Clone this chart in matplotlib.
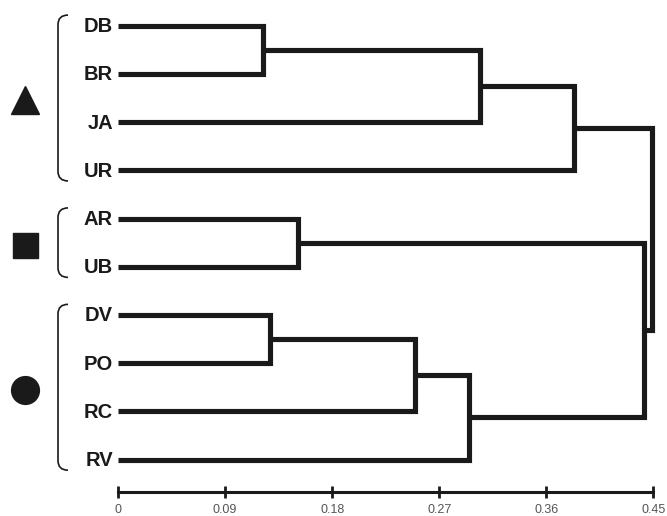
import matplotlib
matplotlib.use("Agg")
import matplotlib.pyplot as plt
from matplotlib.path import Path
from matplotlib.patches import PathPatch

plt.rcParams['font.family'] = ['Liberation Sans', 'DejaVu Sans']

# leaves, top to bottom
leaves = ["DB", "BR", "JA", "UR", "AR", "UB", "DV", "PO", "RC", "RV"]

# merges: (child a, child b, height); new node ids start at len(leaves)
merges = [
    (0, 1, 0.122),
    (10, 2, 0.304),
    (11, 3, 0.383),
    (4, 5, 0.151),
    (6, 7, 0.128),
    (14, 8, 0.250),
    (15, 9, 0.295),
    (13, 16, 0.442),
    (12, 17, 0.449),
]

# groups marked at the left: (marker, first leaf, last leaf)
groups = [("^", 0, 3), ("s", 4, 5), ("o", 6, 9)]

ticks = [0, 0.09, 0.18, 0.27, 0.36, 0.45]
tick_labels = ["0", "0.09", "0.18", "0.27", "0.36", "0.45"]

INK = "#1a1a1a"
px = 1189.6  # pixels per distance unit

fig = plt.figure(figsize=(6.67, 5.16), dpi=100)
ax = fig.add_axes([0, 0, 1, 1])

xpos = {i: 0.0 for i in range(len(leaves))}
ypos = {i: float(i) for i in range(len(leaves))}

for k, (a, b, h) in enumerate(merges):
    node = len(leaves) + k
    ax.plot([xpos[a], h, h, xpos[b]], [ypos[a], ypos[a], ypos[b], ypos[b]],
            color=INK, lw=3.7, solid_joinstyle='miter', solid_capstyle='butt')
    xpos[node] = h
    ypos[node] = (ypos[a] + ypos[b]) / 2

for i, name in enumerate(leaves):
    ax.text(-5 / px, i + 0.02, name, ha='right', va='center', fontsize=14.5,
            fontweight='bold', color=INK)

# brackets and group markers
x0, x1 = -60 / px, -50 / px
for marker, first, last in groups:
    top, bot = first - 0.22, last + 0.22
    verts = [(x1, top), (x0, top), (x0, top + 0.2), (x0, bot - 0.2), (x0, bot), (x1, bot)]
    codes = [Path.MOVETO, Path.CURVE3, Path.CURVE3, Path.LINETO, Path.CURVE3, Path.CURVE3]
    ax.add_patch(PathPatch(Path(verts, codes), fill=False, lw=1.2, color=INK, clip_on=False))
    size = {"^": 20, "s": 18, "o": 20}[marker]
    ax.plot([-93 / px], [(first + last) / 2 + 0.05], marker=marker, ms=size,
            color=INK, clip_on=False)

ax.set_xlim(-118 / px, 549 / px)
ax.set_ylim(10.17, -0.533)

for s in ['top', 'right', 'left']:
    ax.spines[s].set_visible(False)
ax.spines['bottom'].set_position(('data', 9.67))
ax.spines['bottom'].set_bounds(0, 0.45)
ax.spines['bottom'].set_linewidth(2.2)
ax.spines['bottom'].set_color(INK)
ax.set_xticks(ticks)
ax.set_xticklabels(tick_labels)
ax.tick_params(axis='x', direction='inout', length=9, width=2, pad=4.5,
               labelsize=9, labelcolor='#555555', color=INK)
ax.set_yticks([])

fig.savefig("out.png", dpi=100, facecolor='white')
